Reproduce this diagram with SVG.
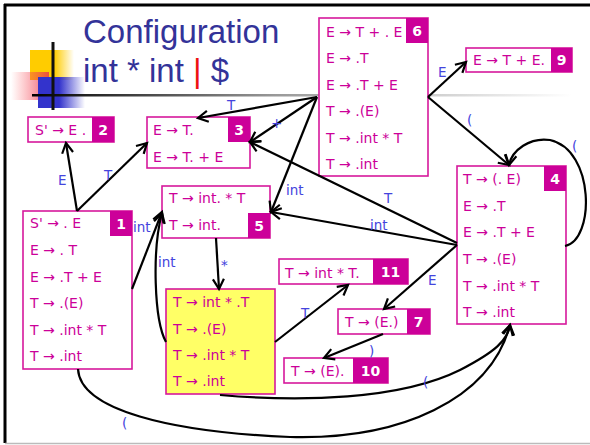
<svg xmlns="http://www.w3.org/2000/svg" width="590" height="445" viewBox="0 0 590 445">
<defs>
<linearGradient id="gLine" x1="0" y1="0" x2="1" y2="0"><stop offset="0" stop-color="#000"/><stop offset="0.45" stop-color="#999"/><stop offset="1" stop-color="#fff"/></linearGradient>
<linearGradient id="gYel" x1="0" y1="0" x2="1" y2="0"><stop offset="0" stop-color="#ffcc00"/><stop offset="0.55" stop-color="#ffcc00"/><stop offset="1" stop-color="#ffcc00" stop-opacity="0"/></linearGradient>
<linearGradient id="gRed" x1="0" y1="0" x2="1" y2="0"><stop offset="0" stop-color="#ff5050" stop-opacity="0"/><stop offset="1" stop-color="#e83050" stop-opacity="0.8"/></linearGradient>
<linearGradient id="gBlue" x1="0" y1="0" x2="1" y2="0"><stop offset="0" stop-color="#3333cc"/><stop offset="0.45" stop-color="#3333cc"/><stop offset="1" stop-color="#3333cc" stop-opacity="0"/></linearGradient>
<marker id="ah" markerUnits="userSpaceOnUse" markerWidth="14" markerHeight="14" refX="11" refY="6" orient="auto" viewBox="0 0 14 12">
<path d="M1,0.5 L11,6 L1,11.5" fill="none" stroke="#000" stroke-width="2.2"/>
</marker>
<style>
.box{fill:#fff;stroke:#d6189c;stroke-width:1.6}
.yel{fill:#ffff66;stroke:#d6189c;stroke-width:1.6}
.bd{fill:#cc0099}
.t{font-family:"DejaVu Sans",sans-serif;font-size:14px;fill:#cc0099}
.n{font-family:"DejaVu Sans",sans-serif;font-size:14px;font-weight:bold;fill:#fff;text-anchor:middle}
.lb{font-family:"DejaVu Sans",sans-serif;font-size:13.5px;fill:#4444dd}
.ed{fill:none;stroke:#000;stroke-width:2.2;marker-end:url(#ah)}
.ti{font-family:"Liberation Sans",Arial,sans-serif;font-size:33px;fill:#333399}
</style>
</defs>
<rect width="590" height="445" fill="#fff"/>
<g id="frame">
<line x1="4" y1="5" x2="590" y2="5" stroke="#000" stroke-width="3"/>
<line x1="5" y1="4" x2="5" y2="443" stroke="#000" stroke-width="3"/>
<line x1="5" y1="443.5" x2="590" y2="443.5" stroke="#bbb" stroke-width="1.5"/>
</g>
<g id="logo">
<rect x="30" y="50" width="44" height="30" fill="url(#gYel)"/>
<rect x="11" y="72" width="38" height="28" fill="url(#gRed)"/>
<rect x="38" y="77" width="47" height="31" fill="url(#gBlue)"/>
<line x1="53" y1="42" x2="53" y2="110" stroke="#111" stroke-width="3"/>
<rect x="32" y="94" width="540" height="2.5" fill="url(#gLine)"/>
</g>
<g id="title">
<text class="ti" x="83" y="43">Configuration</text>
<text class="ti" x="83" y="82">int * int <tspan fill="#ee1111">|</tspan> $</text>
</g>
<g id="state1">
<rect class="box" x="23" y="211" width="109" height="158"/>
<rect class="bd" x="110" y="211" width="22" height="25"/>
<text class="n" x="121" y="229">1</text>
<text class="t" x="30" y="228">S' → . E</text>
<text class="t" x="30" y="255">E → . T</text>
<text class="t" x="30" y="282">E → .T + E</text>
<text class="t" x="30" y="308">T → .(E)</text>
<text class="t" x="30" y="335">T → .int * T</text>
<text class="t" x="30" y="361">T → .int</text>
</g>
<g id="state2">
<rect class="box" x="28" y="117" width="86" height="25"/>
<rect class="bd" x="92" y="117" width="22" height="25"/>
<text class="n" x="103" y="135">2</text>
<text class="t" x="35" y="135">S' → E .</text>
</g>
<g id="state3">
<rect class="box" x="147" y="117" width="103" height="51"/>
<rect class="bd" x="228" y="117" width="22" height="25"/>
<text class="n" x="239" y="135">3</text>
<text class="t" x="153" y="135">E → T.</text>
<text class="t" x="153" y="162">E → T. + E</text>
</g>
<g id="state5">
<rect class="box" x="162" y="186" width="108" height="52"/>
<rect class="bd" x="248" y="213" width="22" height="25"/>
<text class="n" x="259" y="231">5</text>
<text class="t" x="169" y="203">T → int. * T</text>
<text class="t" x="169" y="230">T → int.</text>
</g>
<g id="state8">
<rect class="yel" x="166" y="289" width="109" height="105"/>
<text class="t" x="173" y="307">T → int * .T</text>
<text class="t" x="173" y="334">T → .(E)</text>
<text class="t" x="173" y="360">T → .int * T</text>
<text class="t" x="173" y="386">T → .int</text>
</g>
<g id="state6">
<rect class="box" x="319" y="18" width="109" height="158"/>
<rect class="bd" x="406" y="18" width="22" height="25"/>
<text class="n" x="417" y="36">6</text>
<text class="t" x="326" y="37">E → T + . E</text>
<text class="t" x="326" y="63">E → .T</text>
<text class="t" x="326" y="90">E → .T + E</text>
<text class="t" x="326" y="116">T → .(E)</text>
<text class="t" x="326" y="143">T → .int * T</text>
<text class="t" x="326" y="169">T → .int</text>
</g>
<g id="state9">
<rect class="box" x="466" y="48" width="106" height="24"/>
<rect class="bd" x="551" y="48" width="21" height="24"/>
<text class="n" x="561.5" y="65">9</text>
<text class="t" x="473" y="65">E → T + E.</text>
</g>
<g id="state4">
<rect class="box" x="457" y="166" width="109" height="158"/>
<rect class="bd" x="544" y="166" width="22" height="25"/>
<text class="n" x="555" y="184">4</text>
<text class="t" x="463" y="184">T → (. E)</text>
<text class="t" x="463" y="211">E → .T</text>
<text class="t" x="463" y="237">E → .T + E</text>
<text class="t" x="463" y="264">T → .(E)</text>
<text class="t" x="463" y="291">T → .int * T</text>
<text class="t" x="463" y="317">T → .int</text>
</g>
<g id="state11">
<rect class="box" x="279" y="259" width="129" height="25"/>
<rect class="bd" x="373" y="259" width="35" height="25"/>
<text class="n" x="390.5" y="277">11</text>
<text class="t" x="285" y="278">T → int * T.</text>
</g>
<g id="state7">
<rect class="box" x="338" y="309" width="92" height="25"/>
<rect class="bd" x="407" y="309" width="23" height="25"/>
<text class="n" x="418.5" y="327">7</text>
<text class="t" x="345" y="327">T → (E.)</text>
</g>
<g id="state10">
<rect class="box" x="284" y="358" width="104" height="25"/>
<rect class="bd" x="353" y="358" width="35" height="25"/>
<text class="n" x="370.5" y="376">10</text>
<text class="t" x="291" y="376">T → (E).</text>
</g>
<g id="connectors">
<path class="ed" d="M77,211 L66,143"/>
<path class="ed" d="M77,211 L147,143"/>
<path class="ed" d="M132,289 L162,212"/>
<path class="ed" d="M166,342 C154,320 152,250 162,213"/>
<path class="ed" d="M216,238 L219,289"/>
<path class="ed" d="M275,342 L348,285"/>
<path class="ed" d="M317,97 L198,118"/>
<path class="ed" d="M317,97 L250,142"/>
<path class="ed" d="M317,97 L271,212"/>
<path class="ed" d="M457,243 L250,142"/>
<path class="ed" d="M457,245 L271,212"/>
<path class="ed" d="M457,245 L384,309"/>
<path class="ed" d="M383,334 L324,358"/>
<path class="ed" d="M428,97 L466,62"/>
<path class="ed" d="M428,97 L509,165"/>
<path class="ed" d="M565,246 C595,240 595,150 550,140 C530,137 512,150 509,165"/>
<path class="ed" d="M78,369 C80,410 170,432 290,437 C400,440 490,400 510,325"/>
<path class="ed" d="M220,395 C300,402 400,400 460,370 C495,352 508,340 510,325"/>
</g>
<g id="labels">
<text class="lb" x="58" y="185">E</text>
<text class="lb" x="104" y="180">T</text>
<text class="lb" x="133" y="232">int</text>
<text class="lb" x="158" y="267">int</text>
<text class="lb" x="221" y="270">*</text>
<text class="lb" x="301" y="318">T</text>
<text class="lb" x="227" y="110">T</text>
<text class="lb" x="271" y="128">+</text>
<text class="lb" x="286" y="195">int</text>
<text class="lb" x="384" y="203">T</text>
<text class="lb" x="370" y="230">int</text>
<text class="lb" x="428" y="285">E</text>
<text class="lb" x="369" y="356">)</text>
<text class="lb" x="423" y="387">(</text>
<text class="lb" x="122" y="428">(</text>
<text class="lb" x="438" y="77">E</text>
<text class="lb" x="467" y="125">(</text>
<text class="lb" x="572" y="151">(</text>
</g>
</svg>
